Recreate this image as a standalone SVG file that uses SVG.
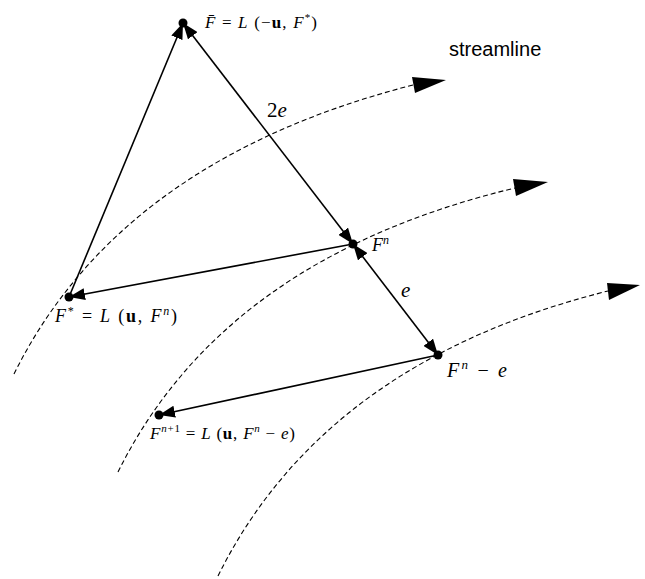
<svg xmlns="http://www.w3.org/2000/svg" width="645" height="579" viewBox="0 0 645 579">
<defs>
<style>
.stream{fill:none;stroke:#000;stroke-width:1.1;stroke-dasharray:5,3}
.head{fill:#000}
.conn{fill:none;stroke:#000;stroke-width:1.6}
.dot{fill:#000}
.m{font-family:"Liberation Serif","DejaVu Serif",serif;fill:#000}
.i{font-style:italic}
.b{font-weight:bold}
.s{font-family:"Liberation Sans",Arial,sans-serif;fill:#000}
</style>
<marker id="arr" viewBox="0 0 16 12" refX="16" refY="6" markerWidth="16" markerHeight="12" markerUnits="userSpaceOnUse" orient="auto-start-reverse">
<path d="M0,0 L16,6 L0,12 z" fill="#000"/>
</marker>
</defs>
<rect width="645" height="579" fill="#fff"/>
<g id="streamlines">
<path class="stream" d="M14,374 Q120,160 413,85"/>
<polygon class="head" points="412,77 446,80 415,93"/>
<path class="stream" d="M118,472 Q224,258 515,188"/>
<polygon class="head" points="513,179 548,182 516,196"/>
<path class="stream" d="M218,576 Q324,362 608,291"/>
<polygon class="head" points="607,283 640,285 609,300"/>
</g>
<g id="connectors">
<line class="conn" x1="69" y1="297" x2="183" y2="23" marker-end="url(#arr)"/>
<line class="conn" x1="353" y1="244" x2="183" y2="23" marker-start="url(#arr)" marker-end="url(#arr)"/>
<line class="conn" x1="353" y1="244" x2="438" y2="355" marker-start="url(#arr)" marker-end="url(#arr)"/>
<line class="conn" x1="353" y1="244" x2="69" y2="297" marker-end="url(#arr)"/>
<line class="conn" x1="438" y1="355" x2="159" y2="415" marker-end="url(#arr)"/>
</g>
<g id="node-Fbar">
<circle class="dot" cx="183" cy="23" r="4.5"/>
<text class="m" x="205" y="28" font-size="17" textLength="112" lengthAdjust="spacing"><tspan class="i">F̄</tspan> = <tspan class="i">L</tspan> (−<tspan class="b">u</tspan>, <tspan class="i">F</tspan><tspan font-size="11" dy="-7">*</tspan><tspan dy="7">)</tspan></text>
</g>
<g id="node-Fstar">
<circle class="dot" cx="69" cy="297" r="4.5"/>
<text class="m" x="55" y="322" font-size="18" textLength="122" lengthAdjust="spacing"><tspan class="i">F</tspan><tspan font-size="12" dy="-7">*</tspan><tspan dy="7"> = </tspan><tspan class="i">L</tspan> (<tspan class="b">u</tspan>, <tspan class="i">F</tspan><tspan class="i" font-size="12" dy="-7">n</tspan><tspan dy="7">)</tspan></text>
</g>
<g id="node-Fn">
<circle class="dot" cx="353" cy="244" r="4.5"/>
<text class="m" x="372" y="251" font-size="18"><tspan class="i">F</tspan><tspan class="i" font-size="12" dy="-7">n</tspan></text>
</g>
<g id="node-Fne">
<circle class="dot" cx="438" cy="355" r="4.5"/>
<text class="m" x="447" y="377" font-size="20" textLength="60" lengthAdjust="spacing"><tspan class="i">F</tspan><tspan class="i" font-size="13" dy="-8">n</tspan><tspan dy="8"> − </tspan><tspan class="i">e</tspan></text>
</g>
<g id="node-Fn1">
<circle class="dot" cx="159" cy="415" r="4.5"/>
<text class="m" x="150" y="439" font-size="17" textLength="145" lengthAdjust="spacing"><tspan class="i">F</tspan><tspan class="i" font-size="11" dy="-7">n</tspan><tspan font-size="11">+1</tspan><tspan dy="7"> = </tspan><tspan class="i">L</tspan> (<tspan class="b">u</tspan>, <tspan class="i">F</tspan><tspan class="i" font-size="11" dy="-7">n</tspan><tspan dy="7"> − </tspan><tspan class="i">e</tspan>)</text>
</g>
<g id="labels">
<text class="m" x="267" y="117" font-size="21">2<tspan class="i">e</tspan></text>
<text class="m i" x="401" y="297" font-size="21">e</text>
<text class="s" x="449" y="56" font-size="20">streamline</text>
</g>
</svg>
